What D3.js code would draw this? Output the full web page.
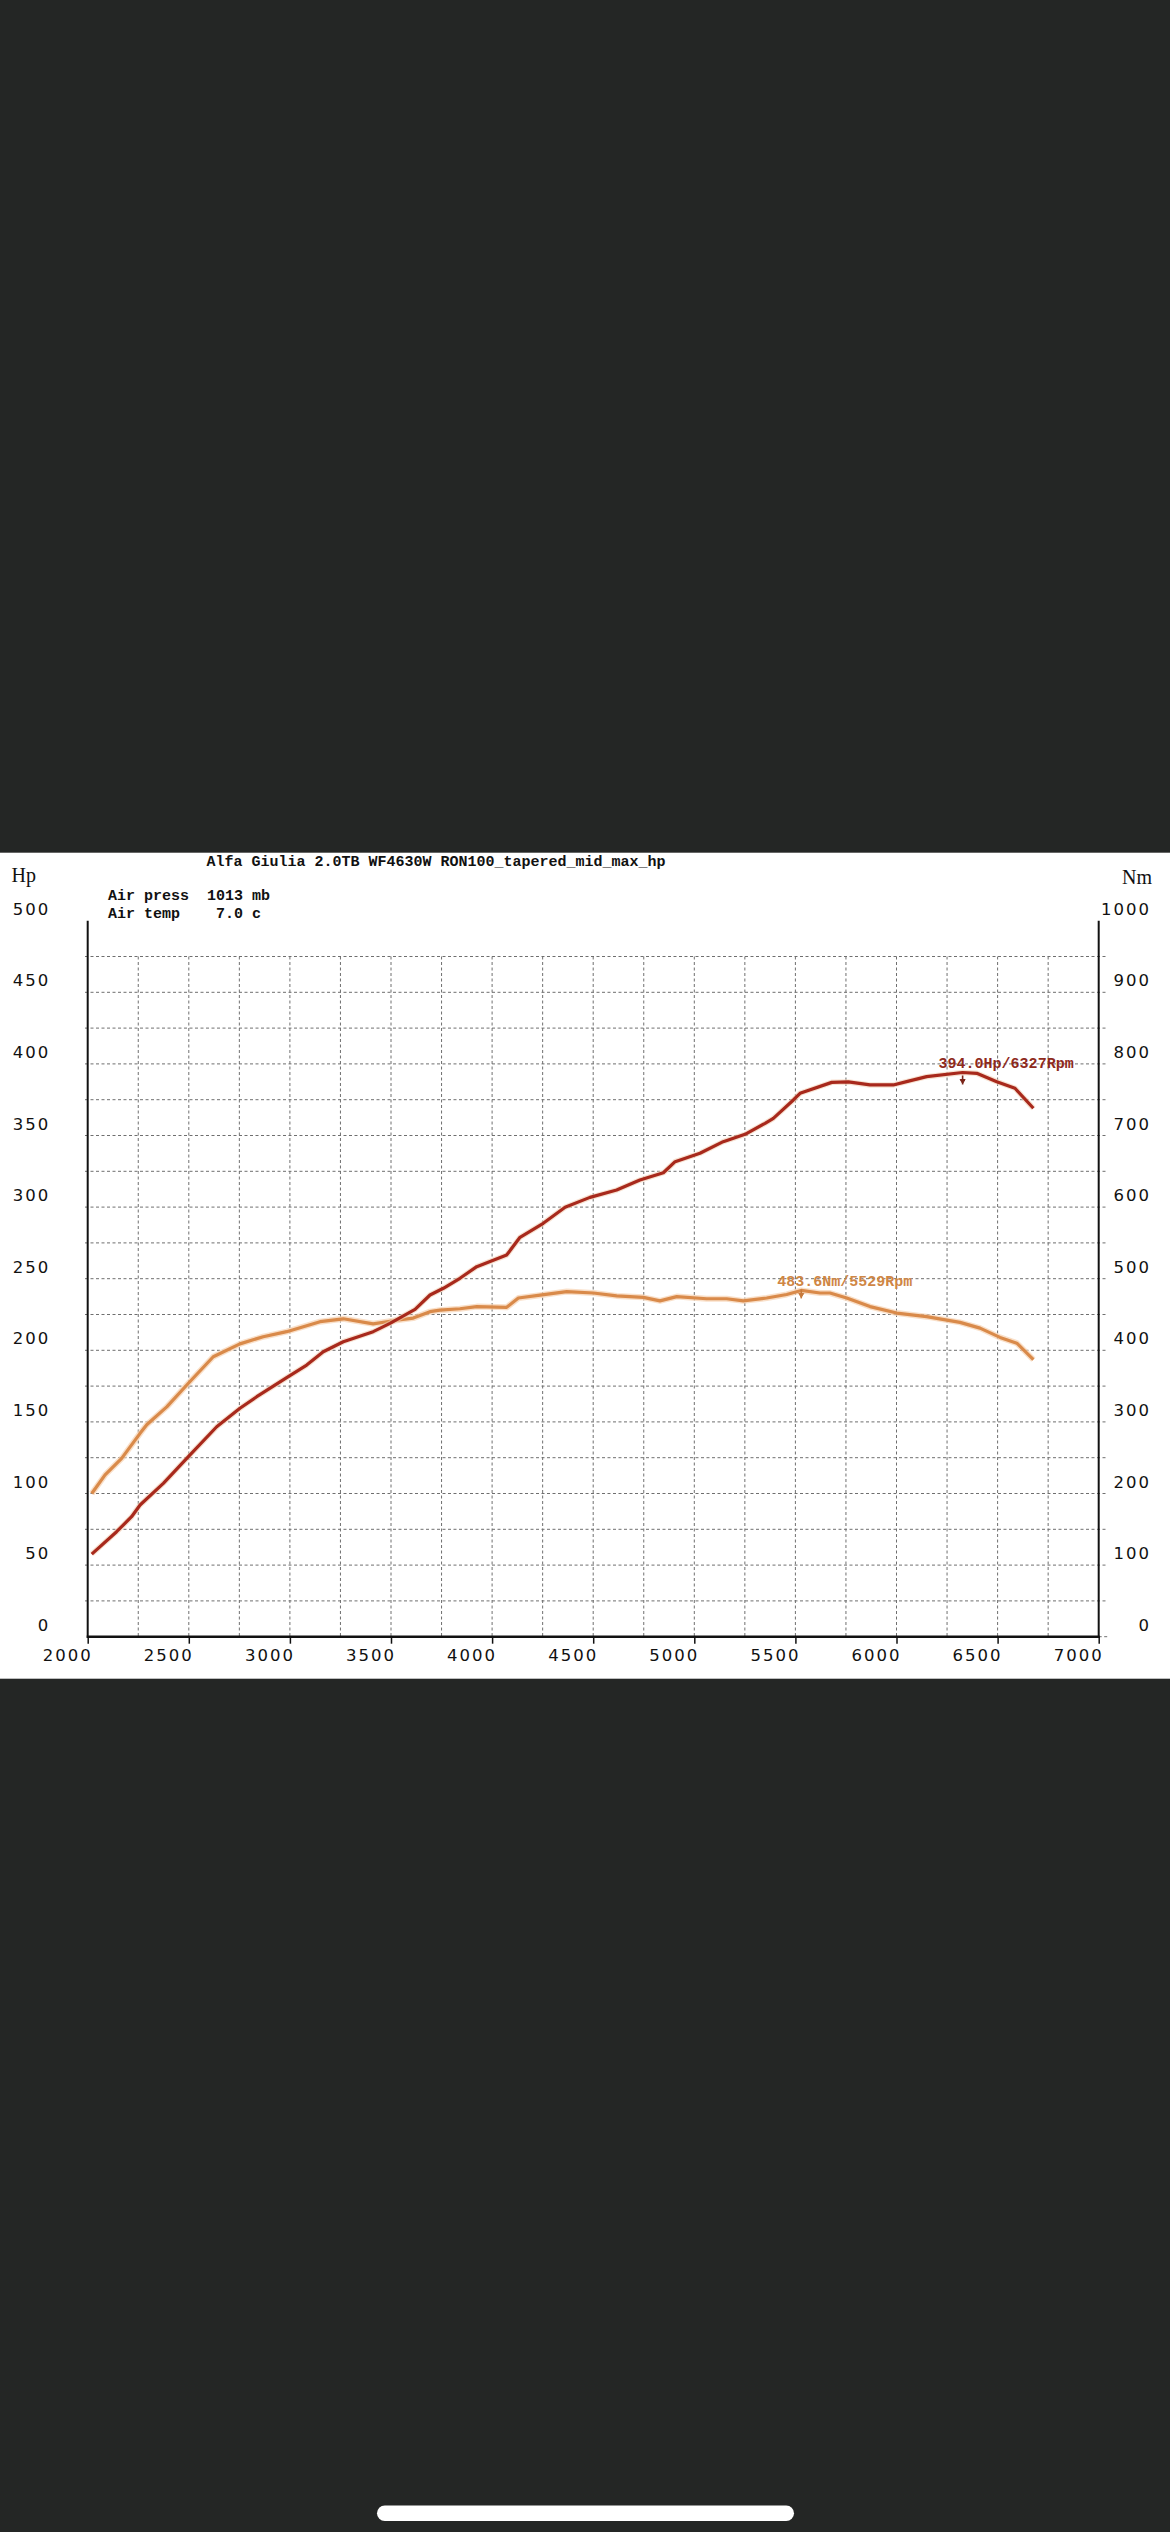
<!DOCTYPE html>
<html>
<head>
<meta charset="utf-8">
<script src="https://cdn.jsdelivr.net/npm/d3@7/dist/d3.min.js"></script>
<style>
  html, body { margin: 0; padding: 0; background: #242625; }
  svg { display: block; }
</style>
</head>
<body>
<svg id="chart" width="1170" height="2532"></svg>
<script>
// ---------------- DATA ----------------
const titleText = "Alfa Giulia 2.0TB WF4630W RON100_tapered_mid_max_hp";
const infoLines = ["Air press  1013 mb", "Air temp    7.0 c"];

const rpmTicks = [2000, 2500, 3000, 3500, 4000, 4500, 5000, 5500, 6000, 6500, 7000];
const hpTicks  = [0, 50, 100, 150, 200, 250, 300, 350, 400, 450, 500];
const nmTicks  = [0, 100, 200, 300, 400, 500, 600, 700, 800, 900, 1000];

// Power curve (Hp)
const powerRpm = [2020, 2143, 2217, 2259, 2374, 2498, 2638, 2753, 2836, 2992, 3083, 3165, 3264, 3412, 3495, 3619, 3693, 3759, 3841, 3924, 4072, 4138, 4253, 4361, 4484, 4616, 4731, 4847, 4905, 5028, 5143, 5251, 5350, 5391, 5490, 5523, 5680, 5762, 5869, 5984, 6050, 6149, 6327, 6397, 6496, 6586, 6677];
const powerHp  = [57.7, 73.3, 83.8, 92.0, 107.1, 125.7, 146.6, 159.5, 167.6, 181.6, 189.7, 199.0, 206.0, 213.0, 218.8, 228.6, 238.6, 243.3, 250.3, 258.4, 266.5, 278.9, 288.7, 299.9, 306.8, 311.9, 318.9, 324.0, 331.7, 337.6, 345.7, 350.8, 358.5, 362.0, 374.8, 379.5, 387.1, 387.4, 385.3, 385.3, 387.6, 391.1, 394.0, 393.4, 387.6, 383.0, 369.0];

// Torque curve (Nm)
const torqueRpm = [2020, 2086, 2168, 2259, 2292, 2391, 2498, 2621, 2753, 2868, 2984, 3149, 3264, 3412, 3528, 3610, 3693, 3742, 3841, 3924, 4072, 4130, 4237, 4369, 4501, 4616, 4748, 4830, 4913, 5061, 5160, 5242, 5358, 5457, 5529, 5622, 5671, 5754, 5869, 6001, 6149, 6314, 6413, 6512, 6595, 6677];
const torqueNm  = [200, 226, 249, 284, 296, 321, 354, 391, 409, 419, 426, 440, 444, 437, 442, 445, 454, 456, 458, 461, 460, 473, 477, 482, 480, 476, 474, 469, 475, 472, 472, 469, 473, 478, 483.6, 480, 480, 473, 461, 452, 447, 439, 431, 418, 410, 387];

const peakPower  = { rpm: 6327, value: 394.0, label: "394.0Hp/6327Rpm" };
const peakTorque = { rpm: 5529, value: 483.6, label: "483.6Nm/5529Rpm" };

// ---------------- LAYOUT ----------------
const svg = d3.select("#chart");
const panelTop = 852.7, panelBottom = 1678.7;
const x = d3.scaleLinear().domain([2000, 7000]).range([87.7, 1098.7]);
const yHp = d3.scaleLinear().domain([0, 500]).range([1636.7, 920.7]);
const yNm = d3.scaleLinear().domain([0, 1000]).range([1636.7, 920.7]);

const redCol = "#a8291c", orangeCol = "#d98a4a";
const redText = "#8e2a1c", orangeText = "#cf8645";

// background
svg.append("rect").attr("x", 0).attr("y", 0).attr("width", 1170).attr("height", 2532).attr("fill", "#242625");
svg.append("rect").attr("x", 0).attr("y", panelTop).attr("width", 1170).attr("height", panelBottom - panelTop).attr("fill", "#ffffff");

// home indicator
svg.append("rect").attr("x", 377).attr("y", 2505.5).attr("width", 417).attr("height", 15.5)
   .attr("rx", 7.75).attr("fill", "#ffffff");

// grid
const grid = svg.append("g").attr("stroke", "#6f6f6f").attr("stroke-width", 1).attr("stroke-dasharray", "3,2.5");
const hGrid = d3.range(25, 500, 25);
grid.selectAll("line.h").data(hGrid).join("line")
  .attr("x1", 85).attr("x2", 1108)
  .attr("y1", d => yHp(d)).attr("y2", d => yHp(d));
const vGrid = d3.range(2250, 7000, 250);
grid.selectAll("line.v").data(vGrid).join("line")
  .attr("x1", d => x(d)).attr("x2", d => x(d))
  .attr("y1", yHp(475)).attr("y2", yHp(0));
grid.append("line").attr("x1", x(7000)).attr("x2", 1108).attr("y1", yHp(0)).attr("y2", yHp(0));

// axes lines
const axes = svg.append("g").attr("stroke", "#111");
axes.append("line").attr("x1", x(2000)).attr("x2", x(2000)).attr("y1", yHp(500)).attr("y2", yHp(0) + 1).attr("stroke-width", 2);
axes.append("line").attr("x1", x(7000)).attr("x2", x(7000)).attr("y1", yHp(500)).attr("y2", yHp(0) + 1).attr("stroke-width", 2);
axes.append("line").attr("x1", x(2000) - 1).attr("x2", x(7000) + 1).attr("y1", yHp(0)).attr("y2", yHp(0)).attr("stroke-width", 2.6);

// x axis ticks + labels via d3 axis
const ls = 2;
const xAxis = d3.axisBottom(x).tickValues(rpmTicks).tickSize(7).tickPadding(0).tickFormat(d3.format("d"));
const gx = svg.append("g").attr("transform", `translate(0,${yHp(0)})`).call(xAxis);
gx.select(".domain").remove();
gx.selectAll(".tick line").attr("stroke", "#111").attr("stroke-width", 1.5);
gx.selectAll(".tick text")
  .attr("text-anchor", "end").attr("x", 2.5 + ls).attr("y", 1661 - yHp(0)).attr("dy", null)
  .attr("fill", "#111").style("font-family", "'DejaVu Sans'").style("font-size", "16.5px")
  .style("letter-spacing", ls + "px");

// left Hp labels
const tickFont = s => s.style("font-family", "'DejaVu Sans'").style("font-size", "16.5px").style("letter-spacing", ls + "px").attr("fill", "#111");
svg.append("g").selectAll("text").data(hpTicks).join("text")
  .attr("x", 48.3 + ls).attr("y", d => yHp(d) - 6).attr("text-anchor", "end")
  .text(d => d).call(tickFont);
// right Nm labels
svg.append("g").selectAll("text").data(nmTicks).join("text")
  .attr("x", 1149 + ls).attr("y", d => yNm(d) - 6).attr("text-anchor", "end")
  .text(d => d).call(tickFont);

// unit labels
svg.append("text").attr("x", 11.5).attr("y", 882).text("Hp")
  .style("font-family", "'Liberation Serif'").style("font-size", "20px").attr("fill", "#111");
svg.append("text").attr("x", 1152).attr("y", 883.5).attr("text-anchor", "end").text("Nm")
  .style("font-family", "'Liberation Serif'").style("font-size", "20px").attr("fill", "#111");

// title and info
const mono = s => s.style("font-family", "'Liberation Mono'").style("font-size", "15px").style("font-weight", "bold").style("white-space", "pre").attr("xml:space", "preserve");
svg.append("text").attr("x", 206.5).attr("y", 865.5).text(titleText).attr("fill", "#111").call(mono);
svg.append("g").selectAll("text").data(infoLines).join("text")
  .attr("x", 108).attr("y", (d, i) => 899.5 + i * 18).text(d => d).attr("fill", "#111").call(mono);

// curves
const powerData = powerRpm.map((r, i) => [r, powerHp[i]]);
const torqueData = torqueRpm.map((r, i) => [r, torqueNm[i]]);
const pLine = d3.line().x(d => x(d[0])).y(d => yHp(d[1])).curve(d3.curveLinear);
const tLine = d3.line().x(d => x(d[0])).y(d => yNm(d[1])).curve(d3.curveLinear);

svg.append("path").datum(torqueData).attr("d", tLine).attr("fill", "none")
  .attr("stroke", "#f6d2b0").attr("stroke-width", 6).attr("stroke-linejoin", "round").attr("opacity", 0.7);
svg.append("path").datum(torqueData).attr("d", tLine).attr("fill", "none")
  .attr("stroke", orangeCol).attr("stroke-width", 3.2).attr("stroke-linejoin", "round");

svg.append("path").datum(powerData).attr("d", pLine).attr("fill", "none")
  .attr("stroke", "#f2cfb4").attr("stroke-width", 5.5).attr("stroke-linejoin", "round").attr("opacity", 0.6);
svg.append("path").datum(powerData).attr("d", pLine).attr("fill", "none")
  .attr("stroke", redCol).attr("stroke-width", 3.2).attr("stroke-linejoin", "round");

// peak markers and labels
function peakMark(px, py, col) {
  const g = svg.append("g").attr("stroke", col).attr("fill", col);
  g.append("line").attr("x1", px).attr("x2", px).attr("y1", py + 3).attr("y2", py + 12).attr("stroke-width", 1.6);
  g.append("path").attr("d", `M${px - 2.5},${py + 7} L${px + 2.5},${py + 7} L${px},${py + 11} Z`).attr("stroke-width", 1);
}
const ppx = x(peakPower.rpm), ppy = yHp(peakPower.value);
peakMark(ppx, ppy, "#7a2418");
svg.append("text").attr("x", ppx - 24).attr("y", ppy - 4).text(peakPower.label).attr("fill", redText).call(mono);

const tpx = x(peakTorque.rpm), tpy = yNm(peakTorque.value);
peakMark(tpx, tpy - 4, "#c77a3c");
svg.append("text").attr("x", tpx - 24).attr("y", tpy - 4).text(peakTorque.label).attr("fill", orangeText).call(mono);
</script>
</body>
</html>
